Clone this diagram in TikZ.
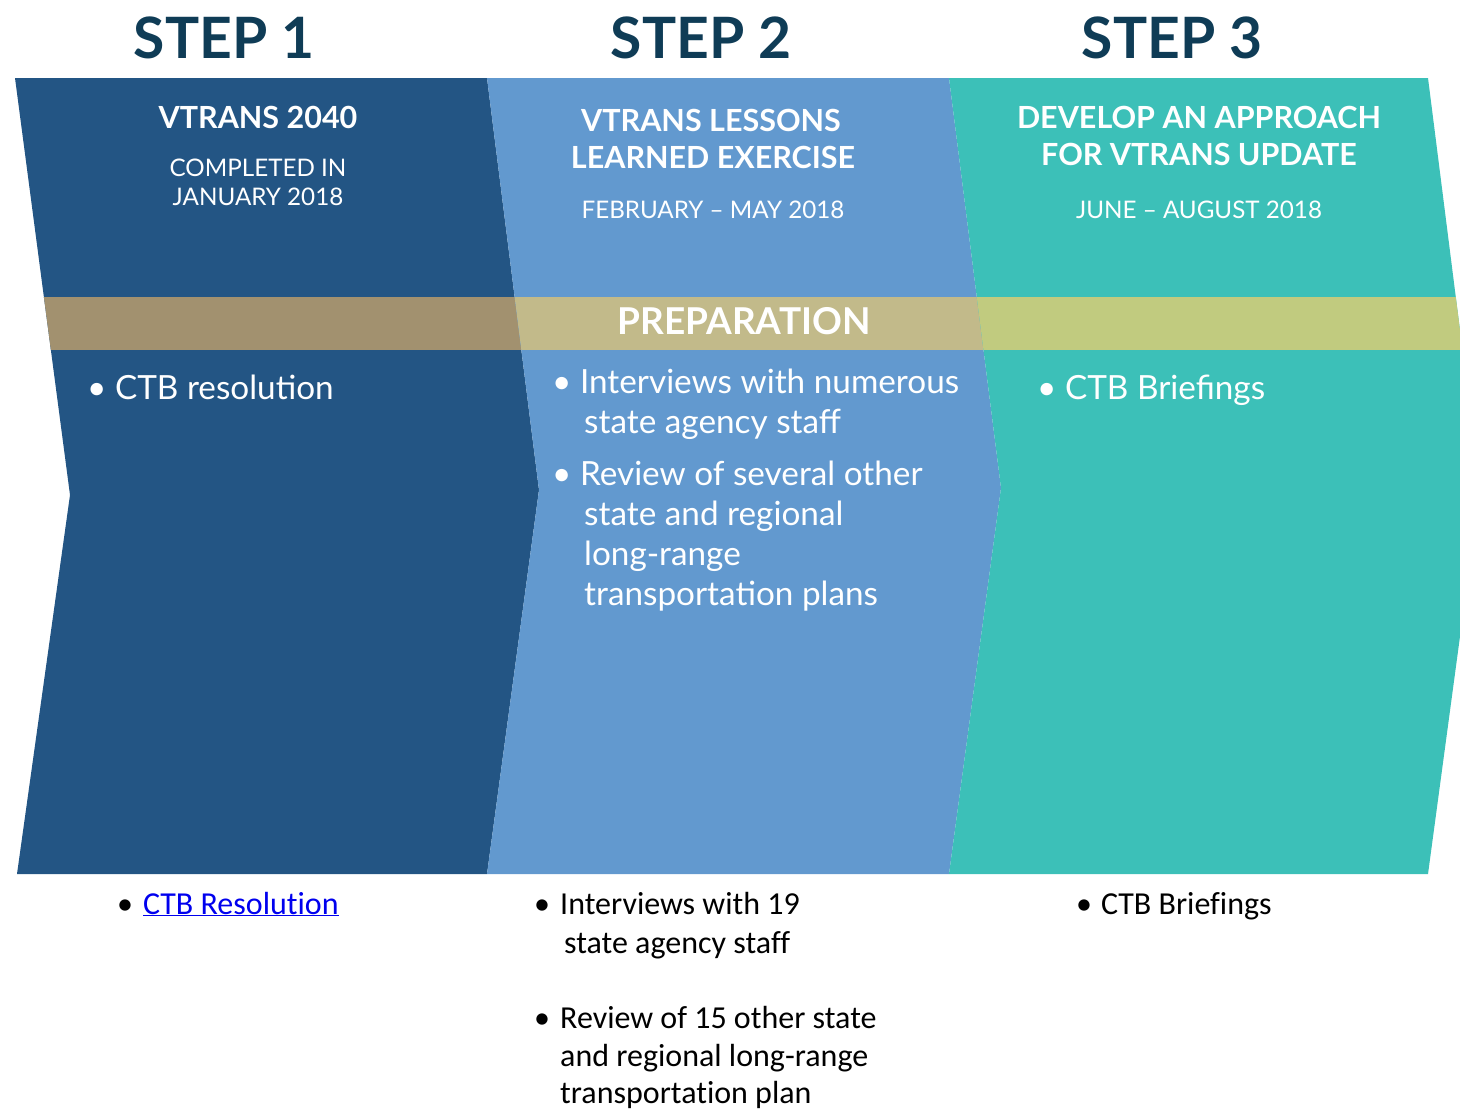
\documentclass[tikz,border=0pt]{standalone}
\usepackage{fontspec}
\setmainfont{Lato}
\newfontfamily\calib[Ligatures=NoCommon]{Carlito}
\definecolor{navyA}{HTML}{235584}
\definecolor{skyA}{HTML}{6299CF}
\definecolor{tealA}{HTML}{3CC0B8}
\definecolor{bandA}{HTML}{A2916F}
\definecolor{bandB}{HTML}{C2BA8A}
\definecolor{bandC}{HTML}{C1CB7F}
\definecolor{titleA}{HTML}{0F3C56}
\definecolor{linkA}{HTML}{0000EE}
\tikzset{
  steptitle/.style={font=\bfseries\fontsize{57}{64}\selectfont, text=titleA, inner sep=0, anchor=base},
  hdr/.style={font=\bfseries\fontsize{30.5}{36}\selectfont, text=white, inner sep=0, anchor=base},
  sub/.style={font=\fontsize{24.2}{30}\selectfont, text=white, inner sep=0, anchor=base},
  inbul/.style={font=\fontsize{33.3}{40}\selectfont, text=white, inner sep=0, anchor=base west},
  outbul/.style={font=\calib\fontsize{32}{38}\selectfont, text=black, inner sep=0, anchor=base west},
}
\begin{document}
\begin{tikzpicture}[x=1pt,y=-1pt]
\useasboundingbox (0,0) rectangle (1460,1111);
\clip (0,0) rectangle (1460,1111);
% step 1 shape
\fill[navyA] (15,78) -- (487,78) -- (539,490) -- (487,874) -- (17,874) -- (70,495) -- cycle;
\begin{scope}
\clip (15,78) -- (487,78) -- (539,490) -- (487,874) -- (17,874) -- (70,495) -- cycle;
\fill[bandA] (0,297) rectangle (1500,350);
\end{scope}
% step 2 shape
\fill[skyA] (487,78) -- (949,78) -- (1001,488) -- (949,874) -- (487,874) -- (539,490) -- cycle;
\begin{scope}
\clip (487,78) -- (949,78) -- (1001,488) -- (949,874) -- (487,874) -- (539,490) -- cycle;
\fill[bandB] (0,297) rectangle (1500,350);
\end{scope}
% step 3 shape
\fill[tealA] (949,78) -- (1428,78) -- (1480,488) -- (1428,874) -- (949,874) -- (1001,488) -- cycle;
\begin{scope}
\clip (949,78) -- (1428,78) -- (1480,488) -- (1428,874) -- (949,874) -- (1001,488) -- cycle;
\fill[bandC] (0,297) rectangle (1500,350);
\end{scope}

% step titles
\node[steptitle] (s1) at (224,58) {STEP 1};
\node[steptitle] (s2) at (701,58) {STEP 2};
\node[steptitle] (s3) at (1172,58) {STEP 3};

% step 1 header
\node[hdr] (h1) at (258,128) {VTRANS 2040};
\node[sub] (h1b) at (258,176) {COMPLETED IN};
\node[sub] (h1c) at (258,205) {JANUARY 2018};
% step 2 header
\node[hdr] (h2) at (711,131) {VTRANS LESSONS};
\node[hdr] (h2b) at (713,168) {LEARNED EXERCISE};
\node[sub] (h2c) at (713,218) {FEBRUARY – MAY 2018};
% step 3 header
\node[hdr] (h3) at (1199,128) {DEVELOP AN APPROACH};
\node[hdr] (h3b) at (1199,165) {FOR VTRANS UPDATE};
\node[sub] (h3c) at (1199,218) {JUNE – AUGUST 2018};

% band label
\node[hdr, font=\bfseries\fontsize{37}{40}\selectfont] (prep) at (744,334) {PREPARATION};

% bullets inside shapes
\node[inbul] (b1) at (87,399) {• CTB resolution};
\node[inbul] (b2) at (552,393) {• Interviews with numerous};
\node[inbul] (b2b) at (584,433) {state agency staff};
\node[inbul] (b3) at (552,485) {• Review of several other};
\node[inbul] (b3b) at (584,525) {state and regional};
\node[inbul] (b3c) at (584,565) {long-range};
\node[inbul] (b3d) at (584,605) {transportation plans};
\node[inbul] (b4) at (1037,399) {• CTB Briefings};

% notes below
\node[outbul] (n1dot) at (117,914) {•};
\node[outbul, text=linkA] (n1) at (143,914) {\underline{CTB Resolution}};
\node[outbul] (n2dot) at (534,914) {•};
\node[outbul] (n2) at (560,914) {Interviews with 19};
\node[outbul] (n2b) at (564,953) {state agency staff};
\node[outbul] (n3dot) at (534,1028) {•};
\node[outbul] (n3) at (560,1028) {Review of 15 other state};
\node[outbul] (n3b) at (560,1066) {and regional long-range};
\node[outbul] (n3c) at (560,1103) {transportation plan};
\node[outbul] (n4dot) at (1076,914) {•};
\node[outbul] (n4) at (1101,914) {CTB Briefings};
\end{tikzpicture}
\end{document}
